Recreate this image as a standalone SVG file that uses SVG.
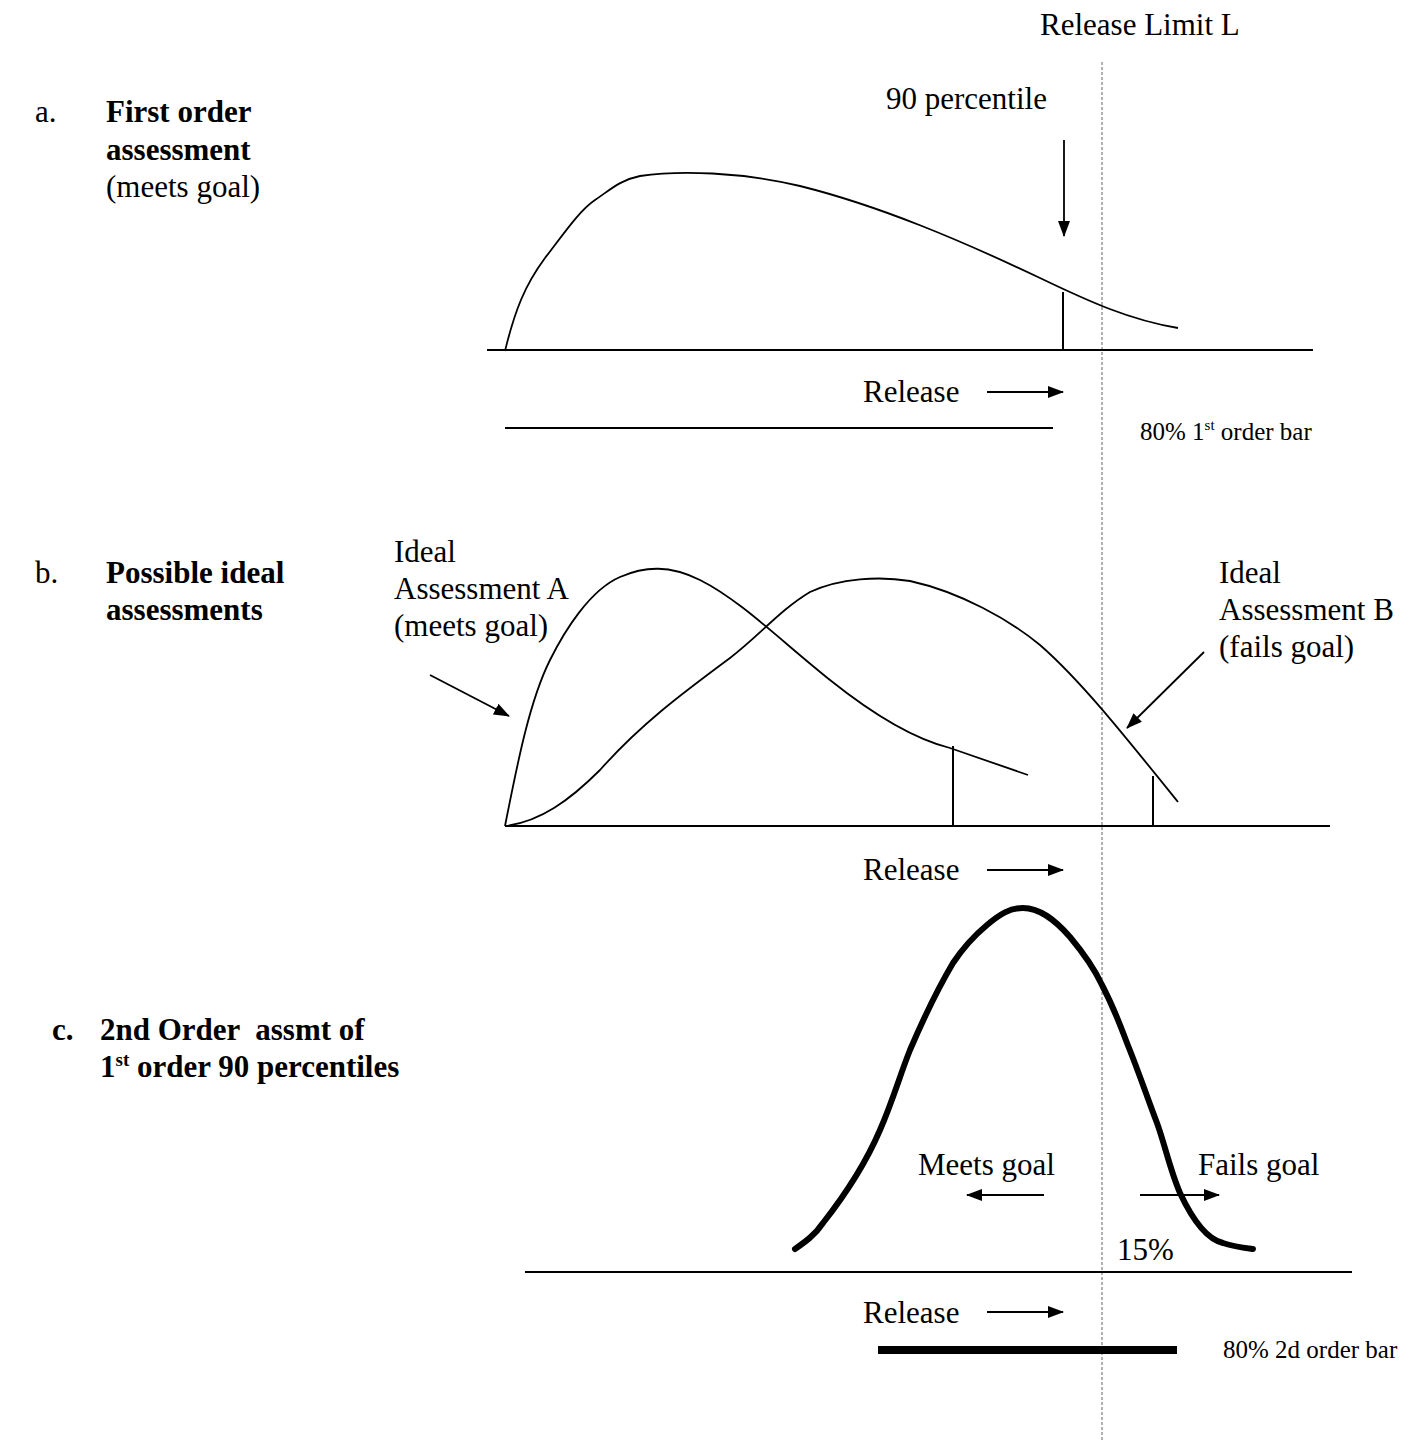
<svg xmlns="http://www.w3.org/2000/svg" width="1427" height="1442" viewBox="0 0 1427 1442">
<style>
text{font-family:"Liberation Serif","Times New Roman",serif;fill:#000;font-size:31px}
.b{font-weight:bold}
.sm{font-size:25px}
.ln{stroke:#000;stroke-width:2;fill:none}
.thin{stroke:#000;stroke-width:1.8;fill:none}
.thick{stroke:#000;stroke-width:6;fill:none;stroke-linecap:round;stroke-linejoin:round}
.ar{stroke:#000;stroke-width:1.8;fill:none;marker-end:url(#ah)}
.dash{stroke:#888;stroke-width:1.3;stroke-dasharray:3,2;fill:none}
</style>
<defs>
<marker id="ah" markerUnits="userSpaceOnUse" markerWidth="16" markerHeight="12" refX="15" refY="6" orient="auto">
<path d="M0,0 L16,6 L0,12 Z" fill="#000"/>
</marker>
</defs>
<rect width="1427" height="1442" fill="#fff"/>

<g id="release-limit">
<text x="1040" y="35">Release Limit L</text>
<line class="dash" x1="1102" y1="62" x2="1102" y2="1442"/>
</g>

<g id="panel-a">
<text x="35" y="122">a.</text>
<text class="b" x="106" y="122">First order</text>
<text class="b" x="106" y="160">assessment</text>
<text x="106" y="197">(meets goal)</text>
<text x="886" y="109">90 percentile</text>
<path class="thin" d="M505,351 C515,310 525,285 545,258 C565,232 580,210 595,200 C610,190 620,180 640,176 C680,170 740,172 800,186 C880,206 960,240 1040,278 C1090,302 1130,320 1178,328"/>
<line class="ln" x1="1063" y1="292" x2="1063" y2="350"/>
<line class="ln" x1="487" y1="350" x2="1313" y2="350"/>
<line class="thin" x1="505" y1="428" x2="1053" y2="428"/>
<text x="863" y="402">Release</text>
<text class="sm" x="1140" y="440">80% 1<tspan dy="-10" font-size="15">st</tspan><tspan dy="10"> order bar</tspan></text>
</g>

<g id="panel-b">
<text x="35" y="583">b.</text>
<text class="b" x="106" y="583">Possible ideal</text>
<text class="b" x="106" y="620">assessments</text>
<text x="394" y="562">Ideal</text>
<text x="394" y="599">Assessment A</text>
<text x="394" y="636">(meets goal)</text>
<text x="1219" y="583">Ideal</text>
<text x="1219" y="620">Assessment B</text>
<text x="1219" y="657">(fails goal)</text>
<path class="thin" d="M505,826 C518,760 530,700 550,660 C565,630 590,590 620,577 C645,566 670,565 700,580 C740,600 780,640 830,680 C870,712 910,738 950,748 L1028,775"/>
<path class="thin" d="M505,826 C540,822 570,800 600,770 C640,725 680,695 730,658 C760,635 780,610 810,592 C840,578 880,576 910,581 C960,592 1010,620 1040,645 C1080,680 1120,730 1178,802"/>
<line class="ln" x1="953" y1="746" x2="953" y2="826"/>
<line class="ln" x1="1153" y1="776" x2="1153" y2="826"/>
<line class="ln" x1="505" y1="826" x2="1330" y2="826"/>
<text x="863" y="880">Release</text>
</g>

<g id="panel-c">
<text class="b" x="52" y="1040">c.</text>
<text class="b" x="100" y="1040" xml:space="preserve">2nd Order  assmt of</text>
<text class="b" x="100" y="1077">1<tspan dy="-11" font-size="19">st</tspan><tspan dy="11"> order 90 percentiles</tspan></text>
<path class="thick" d="M795,1249 C805,1242 815,1235 823,1223 C845,1195 865,1165 880,1130 C893,1100 900,1075 910,1050 C925,1015 940,985 953,963 C965,945 975,935 987,925 C1000,914 1010,908 1023,908 C1040,908 1055,920 1070,937 C1085,955 1095,970 1102,985 C1115,1010 1120,1025 1127,1043 C1140,1075 1148,1100 1157,1123 C1165,1145 1170,1170 1180,1193 C1195,1225 1210,1240 1223,1243 C1235,1247 1245,1248 1253,1249"/>
<text x="918" y="1175">Meets goal</text>
<text x="1198" y="1175">Fails goal</text>
<text x="1117" y="1260">15%</text>
<line class="ln" x1="525" y1="1272" x2="1352" y2="1272"/>
<text x="863" y="1323">Release</text>
<line stroke="#000" stroke-width="8" x1="878" y1="1350" x2="1177" y2="1350"/>
<text class="sm" x="1223" y="1358">80% 2d order bar</text>
</g>

<g id="connectors">
<line class="ar" x1="1064" y1="140" x2="1064" y2="236"/>
<line class="ar" x1="987" y1="392" x2="1063" y2="392"/>
<line class="ar" x1="430" y1="675" x2="509" y2="716"/>
<line class="ar" x1="1204" y1="652" x2="1127" y2="728"/>
<line class="ar" x1="987" y1="870" x2="1063" y2="870"/>
<line class="ar" x1="1044" y1="1195" x2="967" y2="1195"/>
<line class="ar" x1="1140" y1="1195" x2="1219" y2="1195"/>
<line class="ar" x1="987" y1="1312" x2="1063" y2="1312"/>
</g>
</svg>
